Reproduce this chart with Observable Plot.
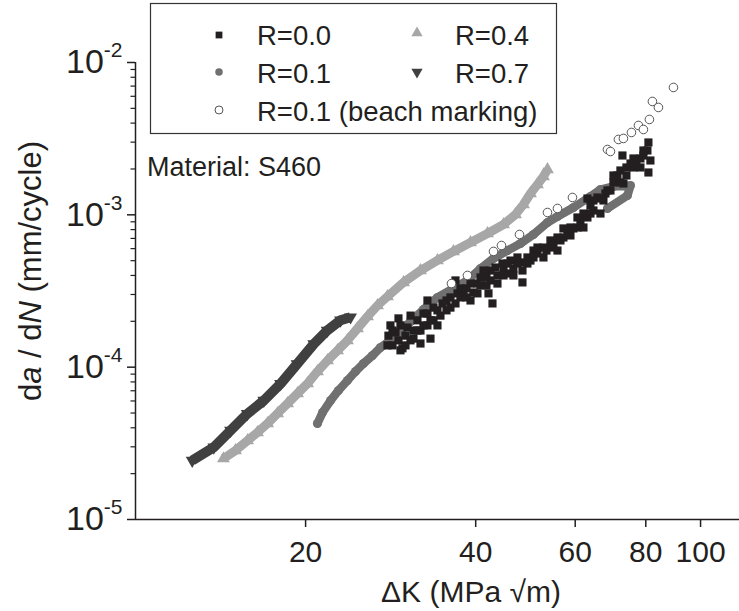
<!DOCTYPE html>
<html><head><meta charset="utf-8">
<script src="https://cdn.jsdelivr.net/npm/d3@7"></script>
<script src="https://cdn.jsdelivr.net/npm/@observablehq/plot@0.6"></script>
<style>body{margin:0;background:#fff;} #wrap{width:739px;height:611px;}</style>
</head><body><div id="wrap"></div>
<script>
// ---- axes ----
const xDomain = [10, 117.2];
const yDomain = [1e-5, 1e-2];
const xTicks = [20, 40, 60, 80, 100];
const yMajor = [1e-5, 1e-4, 1e-3, 1e-2];
const yMinor = [2e-5,3e-5,4e-5,5e-5,6e-5,7e-5,8e-5,9e-5,
                2e-4,3e-4,4e-4,5e-4,6e-4,7e-4,8e-4,9e-4,
                2e-3,3e-3,4e-3,5e-3,6e-3,7e-3,8e-3,9e-3];
const xLabel = "ΔK (MPa √m)";
const noteText = "Material: S460";
const legendLabels = ["R=0.0", "R=0.1", "R=0.1 (beach marking)", "R=0.4", "R=0.7"];

// ---- data: [ΔK (MPa√m), da/dN (mm/cycle)] ----
const r07 = [[12.60,2.44e-5],[13.76,2.98e-5],[14.73,3.84e-5],[15.77,4.94e-5],[16.87,6.04e-5],
  [18.06,7.78e-5],[19.32,1.05e-4],[20.68,1.42e-4],[21.84,1.74e-4],[23.06,2.03e-4],[24.02,2.13e-4]];

const r04 = [[14.31,2.51e-5],[15.03,2.84e-5],[15.79,3.30e-5],[16.44,3.73e-5],[17.13,4.27e-5],
  [17.84,4.97e-5],[18.58,5.77e-5],[19.35,6.72e-5],[20.16,7.81e-5],[20.99,9.37e-5],
  [21.87,1.106e-4],[22.78,1.287e-4],[23.72,1.497e-4],[24.71,1.794e-4],[25.74,2.151e-4],
  [26.81,2.54e-4],[27.92,2.91e-4],[29.81,3.60e-4],[31.94,4.31e-4],[34.23,5.02e-4],
  [36.54,5.75e-4],[39.16,6.58e-4],[41.97,7.54e-4],[44.80,8.64e-4],[47.04,1.005e-3],
  [48.59,1.169e-3],[50.00,1.381e-3],[51.45,1.582e-3],[52.72,1.785e-3],[53.59,1.985e-3]];

const r01 = [[20.99,4.27e-5],[21.43,5.04e-5],[22.14,6.04e-5],[22.87,7.03e-5],[23.72,8.18e-5],
  [24.51,9.37e-5],[25.32,1.057e-4],[26.27,1.193e-4],[27.14,1.347e-4],[28.26,1.497e-4],
  [29.09,1.663e-4],[30.67,1.994e-4],[32.33,2.391e-4],[34.23,2.867e-4],[36.24,3.235e-4],
  [38.68,3.707e-4],[40.79,4.443e-4],[43.01,5.169e-4],[45.54,5.833e-4],[48.01,6.484e-4],
  [50.62,7.429e-4],[53.59,8.905e-4],[55.82,9.75e-4],[59.59,1.117e-3],[63.85,1.319e-3],
  [66.51,1.466e-3],[70.12,1.535e-3],[75.16,1.558e-3],[74.24,1.340e-3],[68.43,1.100e-3]];

const r00 = [[27.92,1.39e-4],[28.03,1.61e-4],[28.26,1.88e-4],[28.50,1.39e-4],[28.85,1.69e-4],
  [29.20,2.09e-4],[29.44,1.29e-4],[29.68,1.33e-4],[30.05,1.61e-4],[30.29,1.82e-4],
  [30.67,1.50e-4],[31.04,1.74e-4],[31.55,2.03e-4],[31.94,1.43e-4],[31.94,1.74e-4],
  [32.33,2.25e-4],[32.86,2.74e-4],[32.86,1.88e-4],[33.27,1.54e-4],[33.68,2.03e-4],
  [34.23,2.36e-4],[34.65,2.18e-4],[34.93,2.62e-4],[35.51,2.74e-4],[36.09,2.46e-4],
  [36.84,3.71e-4],[37.14,3.05e-4],[37.59,2.87e-4],[38.06,3.19e-4],[38.52,3.29e-4],
  [39.16,2.74e-4],[39.64,3.09e-4],[40.29,3.54e-4],[40.79,3.44e-4],[41.29,4.31e-4],
  [41.79,3.88e-4],[42.14,3.05e-4],[42.48,3.71e-4],[42.83,2.62e-4],[43.35,4.51e-4],
  [43.71,4.00e-4],[44.61,4.79e-4],[44.80,4.44e-4],[45.54,4.12e-4],[46.09,5.01e-4],
  [46.65,4.44e-4],[47.42,4.79e-4],[48.01,4.87e-4],[48.40,3.60e-4],[49.39,5.25e-4],
  [50.00,5.01e-4],[50.62,5.83e-4],[51.45,5.57e-4],[52.72,5.25e-4],[53.37,5.83e-4],
  [54.24,6.10e-4],[54.91,6.48e-4],[55.82,5.83e-4],[56.50,6.79e-4],[57.19,7.10e-4],
  [58.13,7.54e-4],[58.85,7.32e-4],[59.59,8.14e-4],[60.55,8.26e-4],[61.29,9.18e-4],
  [62.05,8.26e-4],[63.07,9.61e-4],[63.07,1.280e-3],[63.85,1.152e-3],[64.63,1.068e-3],
  [65.69,1.300e-3],[66.51,1.020e-3],[67.32,1.242e-3],[67.87,1.381e-3],[69.27,1.445e-3],
  [70.12,1.631e-3],[71.27,1.813e-3],[72.14,1.955e-3],[72.74,2.452e-3],[73.03,1.606e-3],
  [73.93,1.813e-3],[75.16,2.173e-3],[76.07,2.046e-3],[77.00,2.274e-3],[78.27,2.344e-3],
  [79.23,2.452e-3],[80.53,2.645e-3],[80.86,1.897e-3],[80.86,2.986e-3],[81.52,2.274e-3],
  [28.50,1.74e-4],[29.20,1.50e-4],[29.44,1.88e-4],[30.05,1.39e-4],[30.67,2.18e-4],
  [31.04,1.54e-4],[31.55,1.74e-4],[32.33,1.88e-4],[32.86,2.25e-4],[33.27,2.03e-4],
  [33.68,2.46e-4],[34.23,1.88e-4],[35.51,2.36e-4],[36.09,2.87e-4],[36.84,2.62e-4],
  [37.59,3.29e-4],[38.52,2.87e-4],[39.16,3.54e-4],[40.29,3.05e-4],[40.79,3.88e-4],
  [41.79,3.44e-4],[42.48,4.31e-4],[43.71,3.54e-4],[44.80,4.00e-4],[45.54,4.79e-4],
  [46.65,4.00e-4],[47.42,5.25e-4],[48.40,4.31e-4],[49.39,4.79e-4],[50.62,5.25e-4],
  [51.45,6.10e-4],[52.72,6.10e-4],[54.24,6.79e-4],[55.82,7.10e-4],[57.19,8.14e-4],
  [58.85,8.26e-4],[60.55,9.61e-4],[62.05,1.020e-3],[63.85,1.020e-3],[64.63,1.242e-3],
  [66.51,1.280e-3],[68.43,1.445e-3],[70.12,1.813e-3],[72.14,1.631e-3],[73.93,2.046e-3],
  [76.07,2.344e-3],[78.27,2.046e-3],[79.23,2.645e-3]];

const r01beach = [[36.24,3.54e-4],[38.68,4.00e-4],[43.01,5.75e-4],[44.43,6.29e-4],[47.81,7.43e-4],
  [53.59,1.036e-3],[55.82,1.101e-3],[59.34,1.300e-3],[68.43,2.685e-3],[69.27,2.605e-3],
  [71.56,3.125e-3],[73.03,3.173e-3],[75.46,3.473e-3],[77.64,3.861e-3],[79.23,3.634e-3],
  [81.19,4.228e-3],[82.19,5.549e-3],[84.23,5.068e-3],[89.55,6.858e-3]];

// ---- styles ----
const FONT = "'Liberation Sans', Arial, Helvetica, sans-serif";
const INK = "#231f20";
const C00 = "#231f20", C01 = "#707070", C04 = "#a7a7a7", C07 = "#404040", CB = "#555555";
const triDown = {draw(ctx, size) {
  const s3 = Math.sqrt(3), y = -Math.sqrt(size / (s3 * 3));
  ctx.moveTo(0, -y * 2); ctx.lineTo(-s3 * y, y); ctx.lineTo(s3 * y, y); ctx.closePath();
}};
const X = d => d[0], Y = d => d[1];

const chart = Plot.plot({
  width: 739, height: 611,
  marginLeft: 135, marginRight: 0, marginTop: 62, marginBottom: 92,
  style: {fontFamily: FONT, background: "white", color: INK, overflow: "visible"},
  x: {type: "log", domain: xDomain},
  y: {type: "log", domain: yDomain},
  marks: [
    Plot.axisX(xTicks, {tickSize: 8, strokeWidth: 1.5, tickFormat: () => "", label: null}),
    Plot.text(xTicks, {x: d => d, frameAnchor: "bottom", lineAnchor: "top", dy: 21,
      text: d => String(d), fontSize: 30, fill: INK}),
    Plot.axisY(yMinor, {tickSize: 4.5, strokeWidth: 1.2, tickFormat: () => "", label: null}),
    Plot.axisY(yMajor, {tickSize: 8, tickPadding: 5, fontSize: 34, strokeWidth: 1.5,
      tickFormat: d => String(Math.round(Math.log10(d))), label: null}),
    Plot.ruleX([xDomain[0]], {stroke: INK, strokeWidth: 1.5}),
    Plot.ruleY([yDomain[0]], {stroke: INK, strokeWidth: 1.5}),
    Plot.line(r07, {x: X, y: Y, stroke: C07, strokeWidth: 10, strokeLinejoin: "round", strokeLinecap: "butt"}),
    Plot.dot(r07, {x: X, y: Y, symbol: triDown, r: 4.8, fill: C07}),
    Plot.line(r04, {x: X, y: Y, stroke: C04, strokeWidth: 9, strokeLinejoin: "round", strokeLinecap: "butt"}),
    Plot.dot(r04, {x: X, y: Y, symbol: "triangle", r: 4.8, fill: C04}),
    Plot.line(r01, {x: X, y: Y, stroke: C01, strokeWidth: 8.5, strokeLinejoin: "round", strokeLinecap: "round"}),
    Plot.dot(r01, {x: X, y: Y, symbol: "circle", r: 4.5, fill: C01}),
    Plot.dot(r00, {x: X, y: Y, symbol: "square", r: 4.6, fill: C00}),
    Plot.dot(r01beach, {x: X, y: Y, symbol: "circle", r: 4.3, fill: "white", stroke: CB, strokeWidth: 1})
  ]
});
document.getElementById("wrap").appendChild(chart);

const svg = d3.select(chart);
// superscript exponents on y tick labels
svg.selectAll('[aria-label="y-axis tick label"] text').each(function() {
  const t = d3.select(this); const s = t.text();
  if (!s) return;
  t.text(null);
  t.append("tspan").text("10");
  t.append("tspan").attr("dy", "-16px").attr("font-size", "21px").text(s);
});

// axis titles
const yl = svg.append("text").attr("font-family", FONT).attr("font-size", 31).attr("fill", INK)
  .attr("text-anchor", "middle").attr("transform", "translate(41,271) rotate(-90)");
yl.append("tspan").text("d");
yl.append("tspan").attr("font-style", "italic").text("a");
yl.append("tspan").text(" / d");
yl.append("tspan").attr("font-style", "italic").text("N");
yl.append("tspan").text(" (mm/cycle)");

svg.append("text").attr("font-family", FONT).attr("font-size", 30).attr("fill", INK)
  .attr("text-anchor", "middle").attr("x", 471).attr("y", 602).text(xLabel);

svg.append("text").attr("font-family", FONT).attr("font-size", 27).attr("fill", INK)
  .attr("text-anchor", "start").attr("x", 147).attr("y", 176).text(noteText);

// legend
const lg = svg.append("g").attr("font-family", FONT).attr("font-size", 27.5).attr("fill", INK)
  .attr("text-anchor", "start");
lg.append("rect").attr("x", 150.5).attr("y", 3.5).attr("width", 406).attr("height", 130)
  .attr("fill", "white").attr("stroke", "#333").attr("stroke-width", 1.2);
const legendSpec = [
  {sym: d3.symbolSquare, size: 46, fill: C00, stroke: "none", mx: 219, my: 35, tx: 257, ty: 45},
  {sym: d3.symbolCircle, size: 44, fill: C01, stroke: "none", mx: 219, my: 72, tx: 257, ty: 83},
  {sym: d3.symbolCircle, size: 50, fill: "white", stroke: CB, mx: 219, my: 110, tx: 257, ty: 121},
  {sym: d3.symbolTriangle, size: 55, fill: C04, stroke: "none", mx: 417, my: 33, tx: 455, ty: 45},
  {sym: triDown, size: 55, fill: C07, stroke: "none", mx: 417, my: 72, tx: 455, ty: 83}
];
legendSpec.forEach((s, i) => {
  lg.append("path").attr("d", d3.symbol(s.sym, s.size)()).attr("transform", `translate(${s.mx},${s.my})`)
    .attr("fill", s.fill).attr("stroke", s.stroke).attr("stroke-width", 1);
  lg.append("text").attr("x", s.tx).attr("y", s.ty).text(legendLabels[i]);
});
</script>
</body></html>
